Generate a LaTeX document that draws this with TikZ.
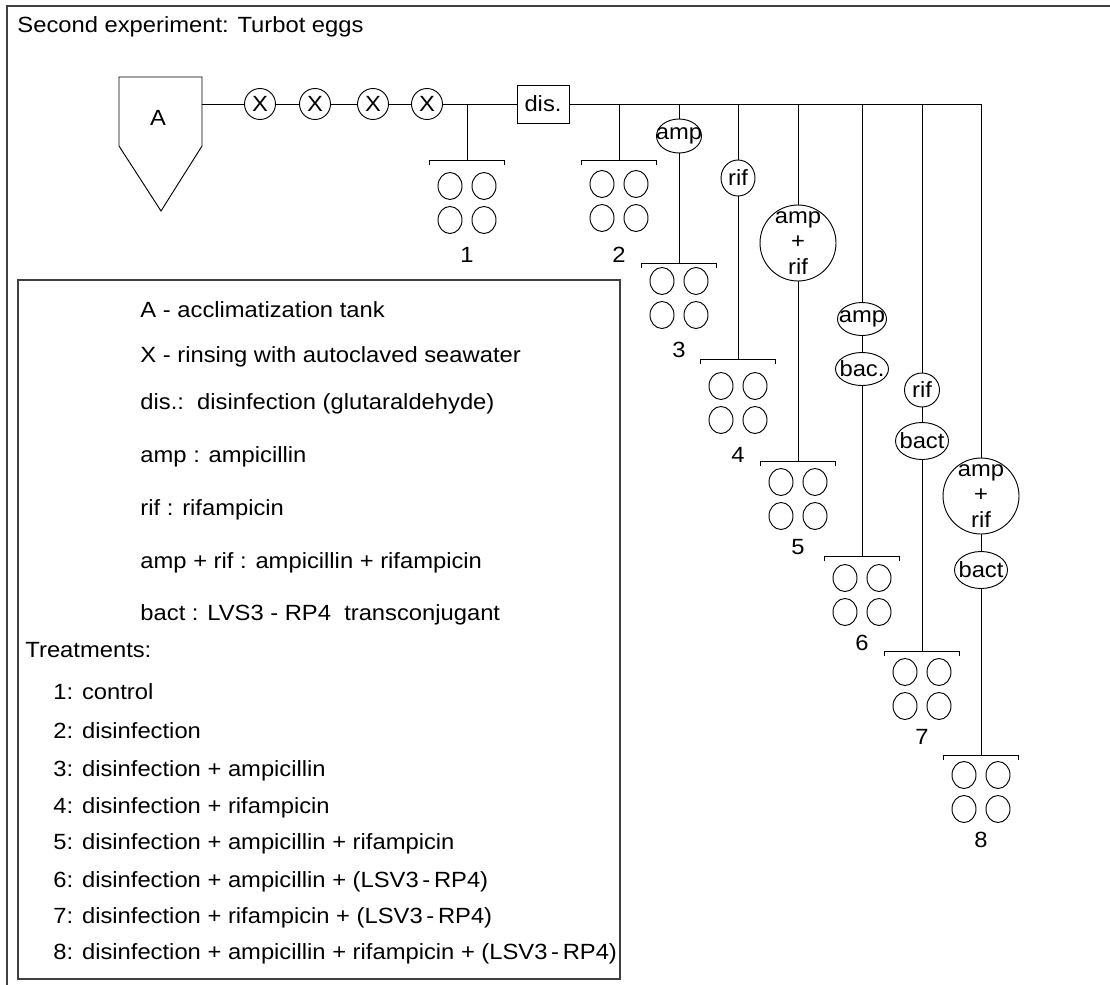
\documentclass[tikz,border=0pt]{standalone}
\usepackage{fontspec}
\setmainfont{Liberation Sans}[FakeStretch=1.08]
\usetikzlibrary{shapes.geometric}

\begin{document}
\begin{tikzpicture}[x=0.75pt,y=-0.75pt,line width=0.7pt,
    every node/.style={font=\fontsize{16.5}{19}\selectfont,inner sep=0pt},
    rinse/.style={draw,circle,minimum size=23.25pt},
    pill/.style={draw,ellipse},
    mixpill/.style={draw,circle,minimum size=57pt},
    frame/.style={line width=1.4pt,black!75}]
    \useasboundingbox (0,0) rectangle (1110,985);
    % frame and title
    \draw[frame] (7,985) -- (7,6) -- (1110,6);
    \node[anchor=base west] (title) at (17,32) {Second experiment: Turbot eggs};
    % tank, rinsing and disinfection
    \draw (119,77) -- (202,77) -- (202,146) -- (161,211) -- (119,146) -- cycle;
    \node (A) at (158,118) {A};
    \coordinate (tankout) at (202,104);
    \node[rinse] (x1) at (260,104) {X};
    \node[rinse] (x2) at (315,104) {X};
    \node[rinse] (x3) at (373,104) {X};
    \node[rinse] (x4) at (427,104) {X};
    \node[draw,minimum width=39pt,minimum height=28.5pt] (dis) at (543,104) {dis.};
    % treatment nodes
    \node[pill,minimum width=33.75pt,minimum height=25.5pt,label=center:amp] (amp3) at (679,136) {};
    \node[pill,minimum width=25.5pt,minimum height=27pt,label=center:rif] (rif4) at (738,178) {};
    \node[mixpill,label={[align=center]center:amp\\+\\rif}] (mix5) at (798,243) {};
    \node[pill,minimum width=36.75pt,minimum height=24.75pt,label=center:amp] (amp6) at (862,319) {};
    \node[pill,minimum width=39.75pt,minimum height=24.75pt,label=center:bac.] (bac6) at (862,369) {};
    \node[pill,minimum width=26.25pt,minimum height=25.5pt,label=center:rif] (rif7) at (922,390) {};
    \node[pill,minimum width=39.75pt,minimum height=27.75pt,label=center:bact] (bact7) at (922,441) {};
    \node[mixpill,label={[align=center]center:amp\\+\\rif}] (mix8) at (981,496) {};
    \node[pill,minimum width=39.75pt,minimum height=27.75pt,label=center:bact] (bact8) at (981,570) {};
    % egg trays
    \foreach \n/\x/\by/\wy/\ly in {1/467/160/186/255,2/619/160/184/255,3/679/263/281/350,
        4/738/359/386/455,5/798/461/482/547,6/862/556/578/643,7/922/651/672/737,8/981/755/775/840}
    {
      \coordinate (j\n) at (\x,104);
      \coordinate (t\n) at (\x,\by);
      \draw (\x-38,\by+5) -- (\x-38,\by) -- (\x+37,\by) -- (\x+37,\by+5);
      \foreach \dx in {-17,17}
        \foreach \dy in {0,34}
          \draw (\x+\dx,\wy+\dy) ellipse [x radius=12,y radius=13.5];
      \node (lab\n) at (\x,\ly) {\n};
    }
    % connectors
    \draw (tankout) -- (x1) -- (x2) -- (x3) -- (x4) -- (dis) -- (j8);
    \draw (j1) -- (t1);
    \draw (j2) -- (t2);
    \draw (j3) -- (amp3) -- (t3);
    \draw (j4) -- (rif4) -- (t4);
    \draw (j5) -- (mix5) -- (t5);
    \draw (j6) -- (amp6) -- (bac6) -- (t6);
    \draw (j7) -- (rif7) -- (bact7) -- (t7);
    \draw (j8) -- (mix8) -- (bact8) -- (t8);
    % legend
    \draw[frame] (18,280) rectangle (620,979);
    \node[anchor=base west] (keyA) at (140,317) {A - acclimatization tank};
    \node[anchor=base west] (keyX) at (140,362) {X - rinsing with autoclaved seawater};
    \node[anchor=base west] (keydis) at (140,409) {dis.:\ \ disinfection (glutaraldehyde)};
    \node[anchor=base west] (keyamp) at (140,462) {amp : ampicillin};
    \node[anchor=base west] (keyrif) at (140,515) {rif : rifampicin};
    \node[anchor=base west] (keymix) at (140,568) {amp + rif : ampicillin + rifampicin};
    \node[anchor=base west] (keybact) at (140,620) {bact : LVS3 - RP4\ \ transconjugant};
    \node[anchor=base west] (treat) at (25,657) {Treatments:};
    \foreach \n/\yy/\txt in {1/699/control,2/738/disinfection,3/776/disinfection + ampicillin,
        4/813/disinfection + rifampicin,5/849/disinfection + ampicillin + rifampicin,
        6/887/disinfection + ampicillin + (LSV3\,-\,RP4),7/923/disinfection + rifampicin + (LSV3\,-\,RP4),
        8/959/disinfection + ampicillin + rifampicin + (LSV3\,-\,RP4)}
      \node[anchor=base west] (treat\n) at (53,\yy) {\n: \txt};
\end{tikzpicture}
\end{document}
